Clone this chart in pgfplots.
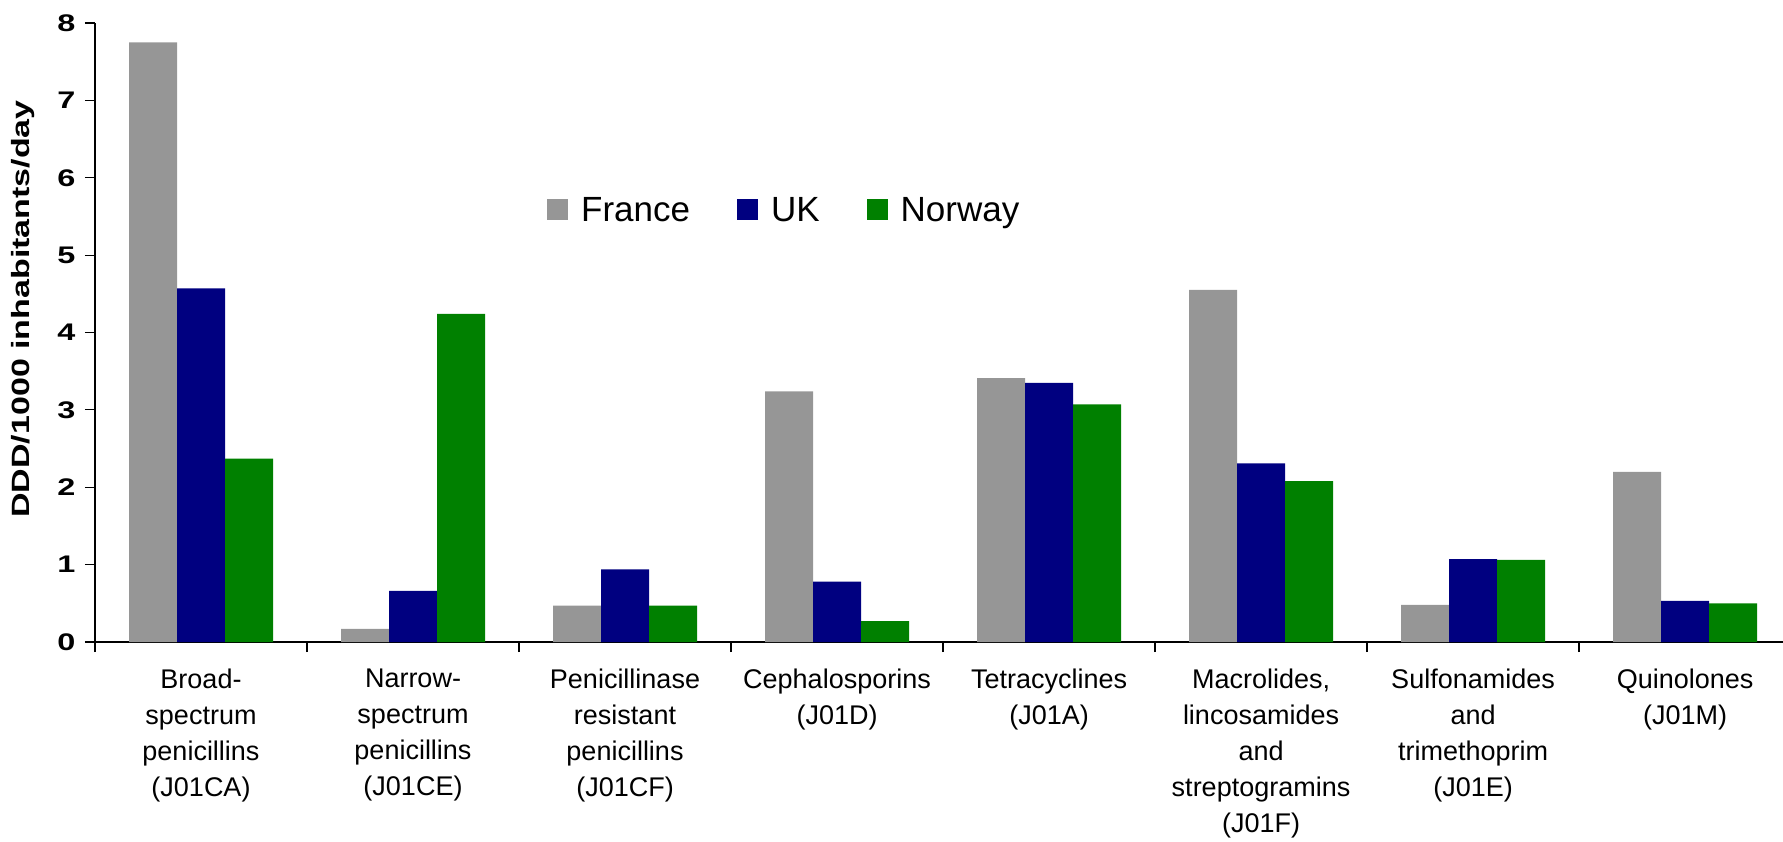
\documentclass[border=0pt]{standalone}
\usepackage{graphicx}
\usepackage{fontspec}
\setmainfont{Liberation Sans}
\usepackage{pgfplots}
\pgfplotsset{compat=1.18}
\definecolor{cFrance}{RGB}{150,150,150}
\definecolor{cUK}{RGB}{0,0,128}
\definecolor{cNorway}{RGB}{0,128,0}
\begin{document}
\begin{tikzpicture}
\begin{axis}[
  at={(0,0)}, anchor=south west,
  scale only axis,
  width=1688bp, height=619bp,
  xmin=-0.5, xmax=7.462,
  ymin=0, ymax=8,
  axis lines=left,
  axis line style={-, line width=1.2bp},
  tick style={black, line width=1.2bp},
  tick align=outside,
  major tick length=10bp,
  ytick={0,1,...,8},
  yticklabel={\scalebox{1.35}[1]{\pgfmathprintnumber[assume math mode=true]{\tick}}},
  yticklabel style={font=\fontsize{24bp}{28bp}\selectfont\bfseries, xshift=-6bp},
  xtick={-0.5,0.5,...,6.5},
  xticklabels={},
  extra x ticks={0,1,2,3,4,5,6,7},
  extra x tick style={major tick length=0pt},
  extra x tick labels={
    {Broad-\\spectrum\\penicillins\\(J01CA)},
    {Narrow-\\spectrum\\penicillins\\(J01CE)},
    {Penicillinase\\resistant\\penicillins\\(J01CF)},
    {Cephalosporins\\(J01D)},
    {Tetracyclines\\(J01A)},
    {Macrolides,\\lincosamides\\and\\streptogramins\\(J01F)},
    {Sulfonamides\\and\\trimethoprim\\(J01E)},
    {Quinolones\\(J01M)}},
  xticklabel style={font=\fontsize{27bp}{36bp}\selectfont, align=center, anchor=north, yshift=-23bp},
  ylabel={\scalebox{1.36}[1]{DDD/1000 inhabitants/day}},
  ylabel style={font=\fontsize{25bp}{30bp}\selectfont\bfseries, at={(axis description cs:-0.0427,0.538)}, anchor=center},
  ybar, bar width=48bp,
  legend columns=3,
  legend style={draw=none, fill=none, font=\fontsize{35bp}{40bp}\selectfont,
    at={(axis description cs:0.266,0.698)}, anchor=west,
    /tikz/every odd column/.append style={column sep=11bp},
    /tikz/every even column/.append style={column sep=45bp}},
  legend image code/.code={\draw[#1,draw=none] (0bp,-10.5bp) rectangle (21bp,10.5bp);},
]
\addplot[fill=cFrance, draw=none, bar shift=-48bp] coordinates {(0,7.75) (1,0.17) (2,0.47) (3,3.24) (4,3.41) (5,4.55) (6,0.48) (7,2.20)};
\addplot[fill=cUK, draw=none, bar shift=0bp] coordinates {(0,4.57) (1,0.66) (2,0.94) (3,0.78) (4,3.35) (5,2.31) (6,1.07) (7,0.53)};
\addplot[fill=cNorway, draw=none, bar shift=48bp] coordinates {(0,2.37) (1,4.24) (2,0.47) (3,0.27) (4,3.07) (5,2.08) (6,1.06) (7,0.50)};
\legend{France, UK, Norway}
\end{axis}
\pgfresetboundingbox
\path[use as bounding box] (-95bp,-200bp) rectangle (1688bp,642bp);
\end{tikzpicture}
\end{document}
